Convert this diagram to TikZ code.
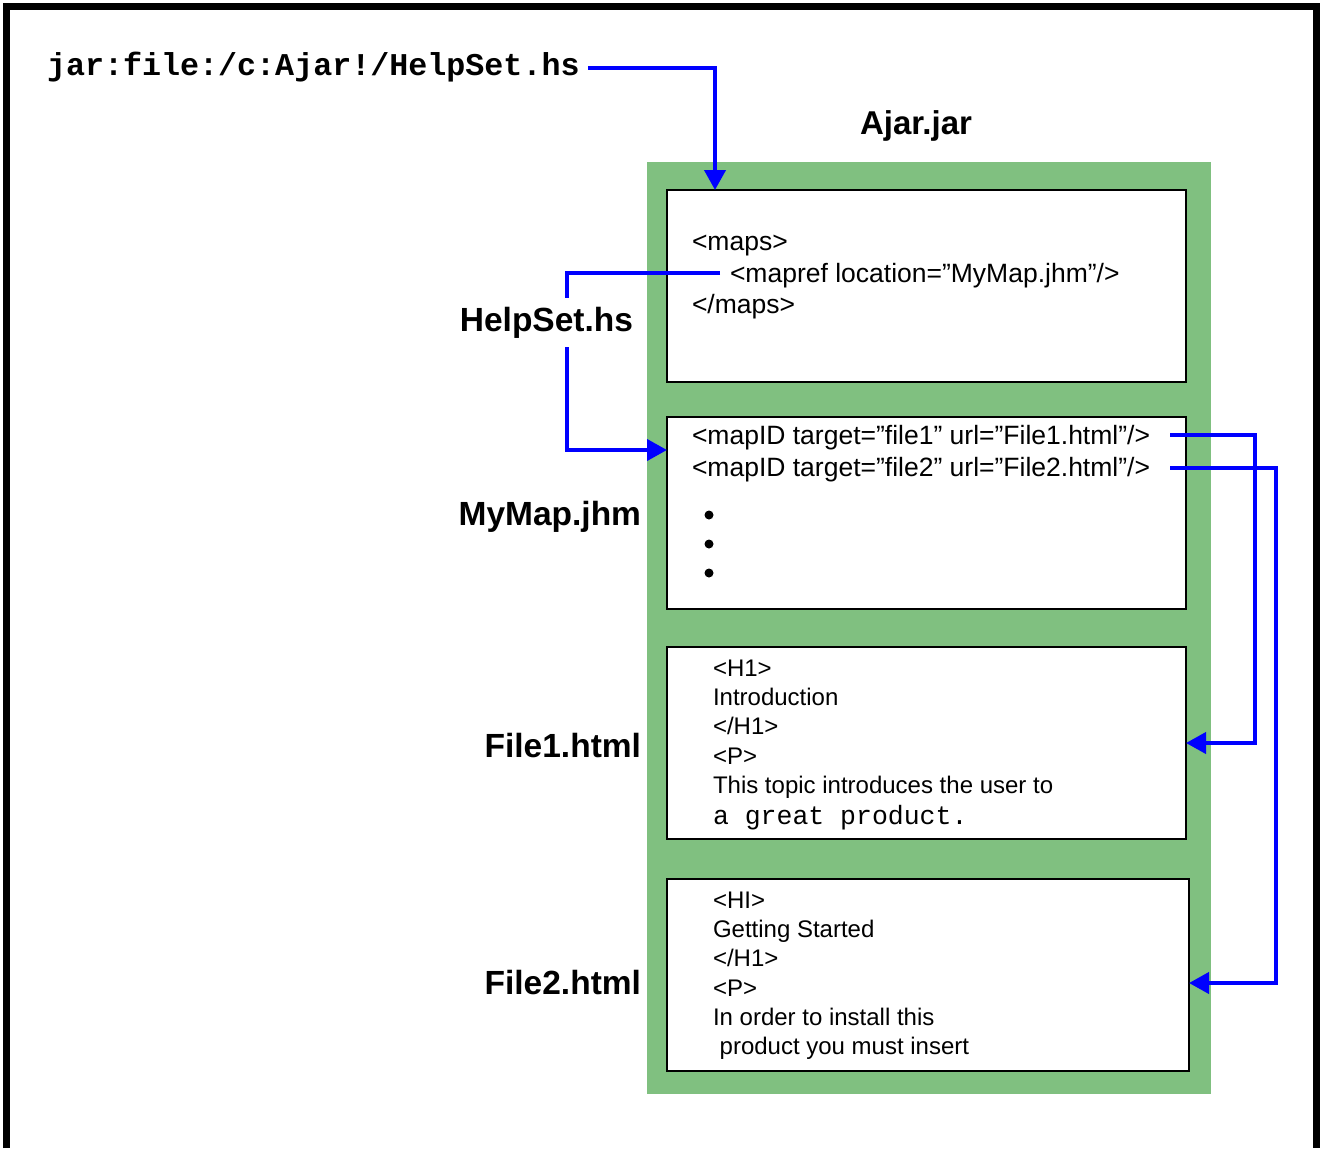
\documentclass[tikz,border=0pt]{standalone}
\usepackage{fontspec}
\setmainfont{Liberation Sans}
\newfontfamily\monofam{Liberation Mono}
\usetikzlibrary{arrows.meta}
\definecolor{jargreen}{RGB}{128,192,128}
\definecolor{linkblue}{RGB}{0,0,255}
\begin{document}
\begin{tikzpicture}[x=1pt,y=-1pt,
  every node/.style={inner sep=0pt, outer sep=0pt},
  boxtext/.style={anchor=base west, font=\fontsize{26.5}{31}\selectfont},
  smalltext/.style={anchor=base west, font=\fontsize{24}{29}\selectfont},
  lbl/.style={font=\fontsize{33.5}{38}\selectfont\bfseries},
  filebox/.style={draw=black, line width=2pt, fill=white, anchor=north west, minimum height=192pt},
  link/.style={draw=linkblue, line width=4pt, -{Triangle[length=20pt,width=21pt]}},
  dot/.style={circle, fill=black, minimum size=9pt}
]
\useasboundingbox (0,0) rectangle (1321,1148);
% frame (open at the bottom)
\draw[line width=7pt] (6.5,1148) -- (6.5,6.5) -- (1316.5,6.5) -- (1316.5,1148);

% jar container
\node[fill=jargreen, anchor=north west, minimum width=564pt, minimum height=932pt] (jarbox) at (647,162) {};
\node[filebox, minimum width=519pt] (box1) at (667,190) {};
\node[filebox, minimum width=519pt] (box2) at (667,417) {};
\node[filebox, minimum width=519pt] (box3) at (667,647) {};
\node[filebox, minimum width=522pt] (box4) at (667,879) {};

% top url
\node[anchor=base west, font={\monofam\bfseries\fontsize{31.7}{36}\selectfont}] (url) at (47,75) {jar:file:/c:Ajar!/HelpSet.hs};
\node[anchor=base, font=\fontsize{33}{38}\selectfont\bfseries] (ajar) at (916,134) {Ajar.jar};

% box 1
\node[boxtext] (maps1) at (692,250) {<maps>};
\node[boxtext] (mapref) at (730,282) {<mapref location=”MyMap.jhm”/>};
\node[boxtext] (maps2) at (692,313) {</maps>};

% box 2
\node[boxtext] (mapid1) at (692,444) {<mapID target=”file1” url=”File1.html”/>};
\node[boxtext] (mapid2) at (692,476) {<mapID target=”file2” url=”File2.html”/>};
\node[dot] (d1) at (709,515) {};
\node[dot] (d2) at (709,544) {};
\node[dot] (d3) at (709,573) {};

% box 3
\node[smalltext] (a1) at (713,676) {<H1>};
\node[smalltext] (a2) at (713,705) {Introduction};
\node[smalltext] (a3) at (713,734) {</H1>};
\node[smalltext] (a4) at (713,764) {<P>};
\node[smalltext] (a5) at (713,793) {This topic introduces the user to};
\node[anchor=base west, font={\monofam\fontsize{26.5}{31}\selectfont}] (a6) at (713,824) {a great product.};

% box 4
\node[smalltext] (b1) at (713,908) {<HI>};
\node[smalltext] (b2) at (713,937) {Getting Started};
\node[smalltext] (b3) at (713,966) {</H1>};
\node[smalltext] (b4) at (713,996) {<P>};
\node[smalltext] (b5) at (713,1025) {In order to install this};
\node[smalltext] (b6) at (713,1054) {\ product you must insert};

% connectors
\coordinate (u0) at (588,68);
\coordinate (u1) at (715,68);
\draw[link] (u0) -- (u1) -- (u1 |- box1.north);

\coordinate (m0) at (720,273);
\coordinate (m1) at (567,273);
\coordinate (m2) at (567,450);
\draw[link] (m0) -- (m1) -- (m2) -- (m2 -| box2.west);

\coordinate (f0) at (1170,435);
\coordinate (f1) at (1255,435);
\coordinate (f2) at (1255,743);
\draw[link] (f0) -- (f1) -- (f2) -- (f2 -| box3.east);

\coordinate (g0) at (1170,468);
\coordinate (g1) at (1276,468);
\coordinate (g2) at (1276,983);
\draw[link] (g0) -- (g1) -- (g2) -- (g2 -| box4.east);

% side labels
\node[lbl, anchor=east, fill=white, minimum height=49pt] (helpset) at (633,322.5) {HelpSet.hs};
\node[lbl, anchor=base east] (mymap) at (641,525) {MyMap.jhm};
\node[lbl, anchor=base east] (file1) at (641,757) {File1.html};
\node[lbl, anchor=base east] (file2) at (641,994) {File2.html};
\end{tikzpicture}
\end{document}
